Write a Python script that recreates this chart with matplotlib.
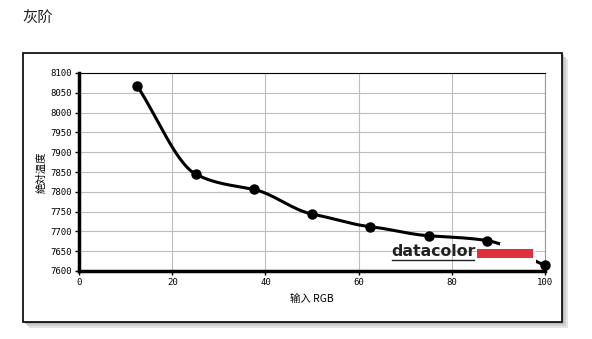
import matplotlib
matplotlib.use("Agg")
import matplotlib.pyplot as plt
import numpy as np
from matplotlib.patches import Rectangle

plt.rcParams['font.family'] = ['Noto Sans CJK SC', 'DejaVu Sans']

# data
rgb_input = [12.5, 25, 37.5, 50, 62.5, 75, 87.5, 100]
cct = [8067, 7845, 7806, 7744, 7712, 7689, 7677, 7614]
x_ticks = [0, 20, 40, 60, 80, 100]
y_ticks = [7600, 7650, 7700, 7750, 7800, 7850, 7900, 7950, 8000, 8050, 8100]

W, H = 592, 339
fig = plt.figure(figsize=(W / 100, H / 100), dpi=100)
fig.patch.set_facecolor("white")


def fx(px):
    return px / W


def fy(py):
    return 1 - py / H


# shadow and frame of the chart box
for i, c in enumerate(["#e4e4e4", "#cfcfcf", "#b8b8b8"]):
    off = 6 - i * 2
    fig.patches.append(Rectangle((fx(23 + off), fy(322 + off)), fx(539), 269 / H,
                                 transform=fig.transFigure, facecolor=c,
                                 edgecolor="none", zorder=0))
fig.patches.append(Rectangle((fx(23), fy(322)), fx(539), 269 / H,
                             transform=fig.transFigure, facecolor="white",
                             edgecolor="black", linewidth=1.2, zorder=1))

fig.text(fx(22), fy(18), "灰阶", fontsize=11, va="center", ha="left", color="#222222")

ax = fig.add_axes([fx(79), fy(271), fx(545 - 79), (271 - 73) / H], zorder=2)
ax.set_facecolor("white")

# smooth curve through the points (cardinal spline, some tension)
xs = np.array(rgb_input, dtype=float)
ys = np.array(cct, dtype=float)
d = np.diff(ys) / np.diff(xs)
m = np.zeros_like(ys)
m[0], m[-1] = d[0], d[-1]
for k in range(1, len(xs) - 1):
    m[k] = 0.6 * (ys[k + 1] - ys[k - 1]) / (xs[k + 1] - xs[k - 1])
xx, yy = [], []
for k in range(len(xs) - 1):
    h = xs[k + 1] - xs[k]
    t = np.linspace(0, 1, 30)
    h00 = 2 * t**3 - 3 * t**2 + 1
    h10 = t**3 - 2 * t**2 + t
    h01 = -2 * t**3 + 3 * t**2
    h11 = t**3 - t**2
    xx.extend(xs[k] + t * h)
    yy.extend(h00 * ys[k] + h10 * h * m[k] + h01 * ys[k + 1] + h11 * h * m[k + 1])

ax.plot(xx, yy, color="black", linewidth=2.2, zorder=3, clip_on=False)
ax.plot(rgb_input, cct, "o", color="black", markersize=6.5, zorder=4, clip_on=False)

ax.set_xlim(0, 100)
ax.set_ylim(7600, 8100)
ax.set_xticks(x_ticks)
ax.set_yticks(y_ticks)
ax.grid(True, color="#bdbdbd", linewidth=0.8)
ax.set_axisbelow(True)
ax.spines["right"].set_color("#999999")
ax.spines["right"].set_linewidth(0.8)
ax.spines["top"].set_color("black")
ax.spines["top"].set_linewidth(0.8)
for s in ["left", "bottom"]:
    ax.spines[s].set_linewidth(2.5)
    ax.spines[s].set_color("black")
ax.tick_params(labelsize=6.5, length=3, width=1, colors="black", pad=2)
for lab in ax.get_xticklabels() + ax.get_yticklabels():
    lab.set_family("DejaVu Sans Mono")

ax.set_xlabel("输入 RGB", fontsize=7.5, labelpad=5)
ax.set_ylabel("絶対温度", fontsize=7.5, labelpad=3)

# datacolor logo (white backing hides the curve behind it)
fig.patches.append(Rectangle((fx(500), fy(263)), fx(36), 20 / H,
                             transform=fig.transFigure, facecolor="white",
                             edgecolor="none", zorder=5))
fig.text(fx(391), fy(252), "datacolor", fontsize=11.3, fontweight="bold",
         ha="left", va="center", color="#222222", zorder=6, family="DejaVu Sans")
fig.patches.append(Rectangle((fx(477), fy(258)), fx(56), 9 / H,
                             transform=fig.transFigure, facecolor="#e0303a",
                             edgecolor="none", zorder=6))
fig.lines.append(plt.Line2D([fx(392), fx(474)], [fy(260), fy(260)],
                            transform=fig.transFigure, color="#222222",
                            linewidth=1, zorder=6))

fig.savefig("out.png", dpi=100)
